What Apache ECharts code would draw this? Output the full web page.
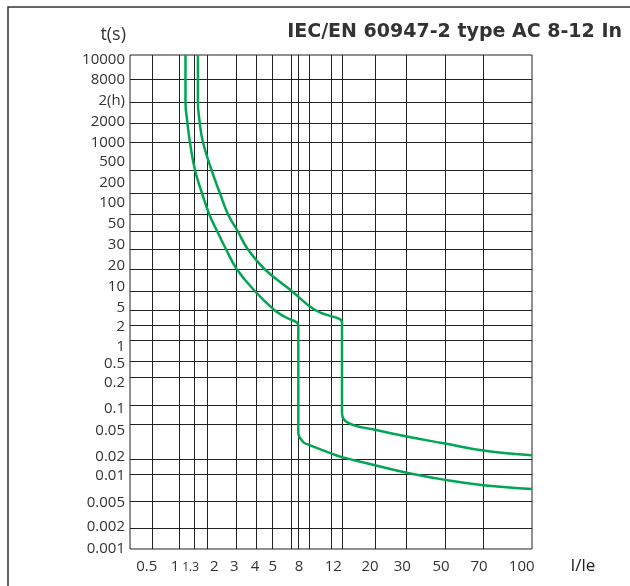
<!DOCTYPE html>
<html>
<head>
<meta charset="utf-8">
<script src="https://cdn.jsdelivr.net/npm/echarts@6/dist/echarts.min.js"></script>
<style>
html,body{margin:0;padding:0;background:#fff;}
#chart{width:630px;height:586px;}
</style>
</head>
<body>
<div id="chart"></div>
<script>
// ---------- DATA ----------
// x axis: I/Ie multiples
const xTickLabels = ['0.5', '1', '1.3', '2', '3', '4', '5', '8', '12', '20', '30', '50', '70', '100'];
// y axis: trip time t(s)
const yTickLabels = ['10000', '8000', '2(h)', '2000', '1000', '500', '200', '100', '50', '30', '20', '10', '5', '2', '1', '0.5', '0.2', '0.1', '0.05', '0.02', '0.01', '0.005', '0.002', '0.001'];

// Curve for 8 In (lower / left band limit)
const curve8I = [1.12, 1.12, 1.16, 1.21, 1.34, 1.67, 2.04, 2.28, 2.58, 3.0, 3.89, 5.18, 6.2, 8, 8, 8, 8, 8.9, 10, 12, 13, 20, 30, 50, 70, 100];
const curve8T = [10000, 7200, 2000, 1000, 500, 200, 100, 50, 30, 20, 10, 5, 3.3, 2, 1.8, 0.06, 0.04, 0.031, 0.029, 0.023, 0.021, 0.015, 0.0106, 0.0086, 0.0075, 0.0068];

// Curve for 12 In (upper / right band limit)
const curve12I = [1.47, 1.47, 1.56, 1.72, 2.11, 2.37, 2.65, 3.04, 3.51, 4.47, 7, 10.5, 13, 13, 13, 13, 14.1, 20, 30, 50, 70, 100];
const curve12T = [10000, 7200, 2000, 1000, 500, 200, 100, 50, 30, 20, 10, 5, 2.35, 2.2, 0.1, 0.075, 0.052, 0.043, 0.036, 0.030, 0.025, 0.022];

// ---------- AXIS GEOMETRY (non-uniform printed scales) ----------
const PLOT = {left: 130, top: 55, width: 402, height: 494};
// x grid: values and their axis units (from left of plot)
const xGridVals  = [0.3, 0.5, 1, 1.3, 2, 3, 4, 5, 7, 8, 10, 12, 13, 20, 30, 50, 70, 100];
const xGridUnits = [0, 22.3, 49, 64, 77.7, 106.7, 126.7, 142.3, 161.7, 168.3, 179, 201.7, 212, 245, 276.7, 315, 353.3, 402];
const xLabelUnits = [16.7, 45, 60.7, 84.3, 104.3, 125, 142.7, 169, 203.3, 240, 272.3, 311, 349, 391.7];
// y grid: values and axis units (from bottom of plot)
const yGridVals  = [10000, 8000, 7200, 2000, 1000, 500, 200, 100, 50, 30, 20, 10, 5, 2, 1, 0.5, 0.2, 0.1, 0.05, 0.02, 0.01, 0.005, 0.002, 0.001];
const yGridUnits = [494, 470, 447, 426, 407, 379, 356, 335, 318, 300, 280, 258, 239, 224, 209, 188, 172, 144, 125, 90, 75, 48, 21, 0];
const yLabelUnits = [489.7, 469, 448.3, 427.3, 406.3, 387, 366.3, 346, 325, 304, 283, 262.3, 241.3, 222.3, 202.3, 185, 166, 140, 118, 92, 73, 46.3, 22.3, 0];

function makeScale(vals, units) {
  return function (v) {
    const lv = Math.log(v);
    for (let i = 0; i < vals.length - 1; i++) {
      const a = Math.log(vals[i]), b = Math.log(vals[i + 1]);
      if ((lv - a) * (lv - b) <= 0) {
        const f = (b === a) ? 0 : (lv - a) / (b - a);
        return units[i] + f * (units[i + 1] - units[i]);
      }
    }
    return null;
  };
}
const xs = makeScale(xGridVals, xGridUnits);
const ys = makeScale(yGridVals, yGridUnits);

function nearestIdx(arr, v) {
  let best = 0, bd = Infinity;
  arr.forEach((a, i) => { const d = Math.abs(a - v); if (d < bd) { bd = d; best = i; } });
  return best;
}

const toPts = (I, T) => I.map((v, k) => [xs(v), ys(T[k])]);

const FONT = '"Open Sans", "Noto Sans", sans-serif';
const GREEN = '#00a651';

const chart = echarts.init(document.getElementById('chart'), null, {renderer: 'canvas'});
const xInner = xGridUnits.slice(1, -1);
const yInner = yGridUnits.slice(1, -1);

chart.setOption({
  animation: false,
  backgroundColor: '#fff',
  grid: {left: PLOT.left, top: PLOT.top, width: PLOT.width, height: PLOT.height,
         show: true, borderColor: '#222', borderWidth: 1, containLabel: false},
  xAxis: {
    type: 'value', min: 0, max: 402,
    axisLine: {show: false},
    axisTick: {show: false, customValues: xInner},
    splitLine: {show: true, customValues: xInner, lineStyle: {color: '#222', width: 1}},
    axisLabel: {
      customValues: xLabelUnits, margin: 10,
      color: '#333', fontSize: 15, fontFamily: FONT,
      formatter: function (v) {
        const t = xTickLabels[nearestIdx(xLabelUnits, v)];
        return t === '1.3' ? '{s|1.3}' : t;
      },
      rich: {s: {fontSize: 12, fontFamily: FONT, color: '#333', padding: [3, 0, 0, 0]}}
    }
  },
  yAxis: {
    type: 'value', min: 0, max: 494,
    axisLine: {show: false},
    axisTick: {show: false, customValues: yInner},
    splitLine: {show: true, customValues: yInner, lineStyle: {color: '#222', width: 1}},
    axisLabel: {
      customValues: yLabelUnits, margin: 5,
      color: '#333', fontSize: 15, fontFamily: FONT,
      formatter: function (v) { return yTickLabels[nearestIdx(yLabelUnits, v)]; }
    }
  },
  graphic: [
    {type: 'rect', shape: {x: 8, y: 7, width: 700, height: 700}, silent: true,
     style: {fill: 'none', stroke: '#333', lineWidth: 1.5}},
    {type: 'text', x: 622, y: 32, style: {text: 'IEC/EN 60947-2 type AC 8-12 In', align: 'right', verticalAlign: 'middle',
      font: 'bold 19px "DejaVu Sans", sans-serif', fill: '#333'}},
    {type: 'text', x: 126, y: 35, style: {text: 't(s)', align: 'right', verticalAlign: 'middle',
      font: '18px ' + FONT, fill: '#333'}},
    {type: 'text', x: 583, y: 566, style: {text: 'I/le', align: 'center', verticalAlign: 'middle',
      font: '17px ' + FONT, fill: '#222'}}
  ],
  series: [
    {name: '8 In', type: 'line', data: toPts(curve8I, curve8T), showSymbol: false, smooth: 0.45,
     lineStyle: {color: GREEN, width: 2.5}, itemStyle: {color: GREEN}},
    {name: '12 In', type: 'line', data: toPts(curve12I, curve12T), showSymbol: false, smooth: 0.45,
     lineStyle: {color: GREEN, width: 2.5}, itemStyle: {color: GREEN}}
  ]
});
</script>
</body>
</html>
